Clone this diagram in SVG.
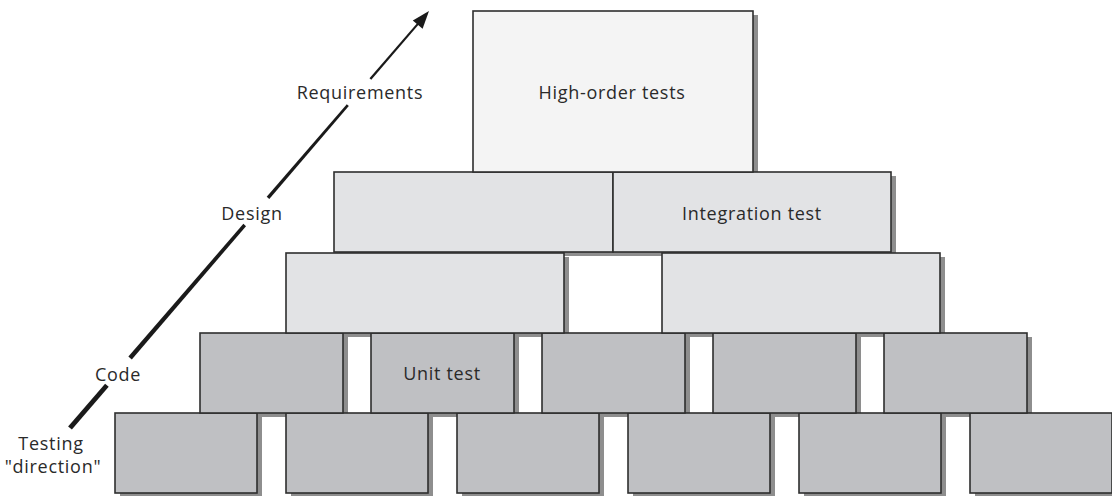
<svg xmlns="http://www.w3.org/2000/svg" width="1112" height="496" viewBox="0 0 1112 496">
<style>
  .sh { fill: #8e8e8e; }
  .box { stroke: #2e2e2e; stroke-width: 1.6; }
  .top { fill: #f4f4f4; }
  .mid { fill: #e2e3e5; }
  .low { fill: #bfc0c3; }
  .lbl { font-family: "Open Sans", "Liberation Sans", sans-serif; font-size: 18px; letter-spacing: 0.7px; fill: #2a2a2a; text-anchor: middle; }
  .arrow { fill: #1a1a1a; }
</style>
<rect width="1112" height="496" fill="#ffffff"/>

<!-- shadows -->
<g id="shadows">
  <rect class="sh" x="478" y="15" width="280" height="161"/>
  <rect class="sh" x="339" y="176" width="279" height="80"/>
  <rect class="sh" x="618" y="176" width="278" height="80"/>
  <rect class="sh" x="291" y="257" width="278" height="80"/>
  <rect class="sh" x="667" y="257" width="278" height="80"/>
  <rect class="sh" x="205" y="337" width="143" height="80"/>
  <rect class="sh" x="376" y="337" width="143" height="80"/>
  <rect class="sh" x="547" y="337" width="143" height="80"/>
  <rect class="sh" x="718" y="337" width="143" height="80"/>
  <rect class="sh" x="889" y="337" width="143" height="80"/>
  <rect class="sh" x="120" y="417" width="142" height="80"/>
  <rect class="sh" x="291" y="417" width="142" height="80"/>
  <rect class="sh" x="462" y="417" width="142" height="80"/>
  <rect class="sh" x="633" y="417" width="142" height="80"/>
  <rect class="sh" x="804" y="417" width="142" height="80"/>
  <rect class="sh" x="975" y="417" width="142" height="80"/>
</g>

<!-- row 5 -->
<g id="r5b1"><rect class="box low" x="115" y="413" width="142" height="80"/></g>
<g id="r5b2"><rect class="box low" x="286" y="413" width="142" height="80"/></g>
<g id="r5b3"><rect class="box low" x="457" y="413" width="142" height="80"/></g>
<g id="r5b4"><rect class="box low" x="628" y="413" width="142" height="80"/></g>
<g id="r5b5"><rect class="box low" x="799" y="413" width="142" height="80"/></g>
<g id="r5b6"><rect class="box low" x="970" y="413" width="142" height="80"/></g>

<!-- row 4 -->
<g id="r4b1"><rect class="box low" x="200" y="333" width="143" height="80"/></g>
<g id="unit-test"><rect class="box low" x="371" y="333" width="143" height="80"/>
  <text class="lbl" x="442" y="380">Unit test</text></g>
<g id="r4b3"><rect class="box low" x="542" y="333" width="143" height="80"/></g>
<g id="r4b4"><rect class="box low" x="713" y="333" width="143" height="80"/></g>
<g id="r4b5"><rect class="box low" x="884" y="333" width="143" height="80"/></g>

<!-- row 3 -->
<g id="r3b1"><rect class="box mid" x="286" y="253" width="278" height="80"/></g>
<g id="r3b2"><rect class="box mid" x="662" y="253" width="278" height="80"/></g>

<!-- row 2 -->
<g id="r2b1"><rect class="box mid" x="334" y="172" width="279" height="80"/></g>
<g id="integration-test"><rect class="box mid" x="613" y="172" width="278" height="80"/>
  <text class="lbl" x="752" y="220">Integration test</text></g>

<!-- top -->
<g id="high-order-tests"><rect class="box top" x="473" y="11" width="280" height="161"/>
  <text class="lbl" x="612" y="99">High-order tests</text></g>

<!-- testing direction arrow -->
<g id="connectors">
  <polygon class="arrow" points="71.9,429.6 108.7,386.7 105.1,383.7 68.1,426.4"/>
  <polygon class="arrow" points="131.8,359.6 246.0,226.2 243.4,223.8 128.4,356.6"/>
  <polygon class="arrow" points="269.3,199.0 348.8,106.1 346.8,104.3 266.7,196.8"/>
  <polygon class="arrow" points="371.3,79.8 420.2,22.8 418.6,21.4 369.5,78.2"/>
  <polygon class="arrow" points="429,11 422.6,28.8 412.8,20.4"/>
</g>

<g id="axis-labels">
  <text class="lbl" x="360" y="99">Requirements</text>
  <text class="lbl" x="252" y="220">Design</text>
  <text class="lbl" x="118" y="381">Code</text>
  <text class="lbl" x="51" y="450">Testing</text>
  <text class="lbl" x="53" y="473">"direction"</text>
</g>
</svg>
